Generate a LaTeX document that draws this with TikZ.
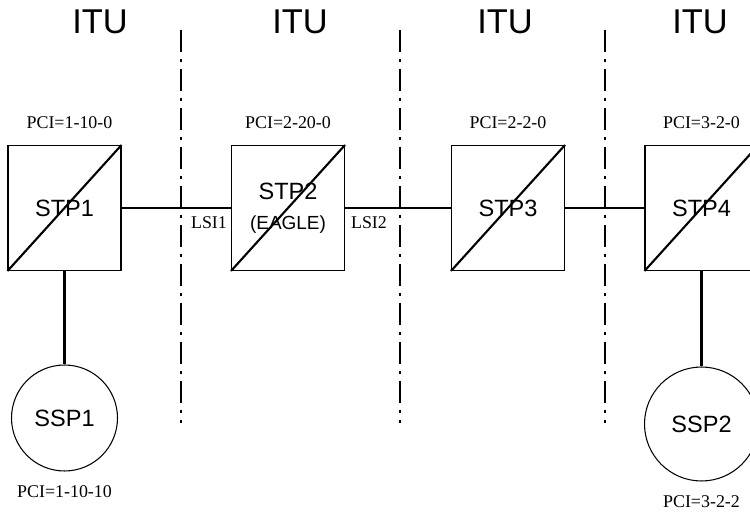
\documentclass[tikz,border=0pt]{standalone}
\usepackage{fontspec}
\setmainfont{Liberation Serif}
\setsansfont{Liberation Sans}
\usetikzlibrary{positioning}

\tikzset{
  stp/.style={draw, line width=0.6pt, minimum width=2.26cm, minimum height=2.5cm, inner sep=0pt,
    align=center, font=\sffamily\fontsize{13.4}{17}\selectfont},
  ssp/.style={draw, circle, line width=0.6pt, inner sep=0pt, font=\sffamily\fontsize{13.4}{16}\selectfont},
  pci/.style={inner sep=0pt, font=\fontsize{10.2}{12}\selectfont},
  itu/.style={inner sep=0pt, font=\sffamily\fontsize{19.6}{22}\selectfont},
  link/.style={line width=1.2pt},
  border/.style={line width=1.2pt, dash pattern=on 0.44cm off 0.14cm on 0.06cm off 0.14cm}
}

\begin{document}
\begin{tikzpicture}[x=0.02cm, y=-0.02cm]
  \useasboundingbox (0,0) rectangle (750,516);
  \clip (0,0) rectangle (750,516);
  % domain borders
  \foreach \x in {181,400,605}
  {
    \draw[border] (\x,30) -- (\x,423);
  }
  \node[itu] (itu1) at (100,22) {ITU};
  \node[itu] (itu2) at (300,22) {ITU};
  \node[itu] (itu3) at (505,22) {ITU};
  \node[itu] (itu4) at (700,22) {ITU};
  % signalling points
  \node[stp] (stp1) at (64.5,208) {STP1};
  \node[stp] (stp2) at (288,208) {STP2\\{\fontsize{10.8}{17}\selectfont(EAGLE)}};
  \node[stp] (stp3) at (508,208) {STP3};
  \node[stp] (stp4) at (701.5,208) {STP4};
  \node[ssp, minimum size=2.12cm] (ssp1) at (64.5,418) {SSP1};
  \node[ssp, minimum size=2.28cm] (ssp2) at (701.5,424) {SSP2};
  \foreach \n in {stp1,stp2,stp3,stp4}
  {
    \draw[link] (\n.south west) -- (\n.north east);
  }
  \draw[link] (stp1) -- (stp2);
  \draw[link] (stp2) -- (stp3);
  \draw[link] (stp3) -- (stp4);
  \draw[link] (stp1) -- (ssp1);
  \draw[link] (stp4) -- (ssp2);
  % point codes
  \node[pci, above=0.32cm of stp1, xshift=0.1cm] (pci1) {PCI=1-10-0};
  \node[pci, above=0.32cm of stp2] (pci2) {PCI=2-20-0};
  \node[pci, above=0.32cm of stp3] (pci3) {PCI=2-2-0};
  \node[pci, above=0.32cm of stp4] (pci4) {PCI=3-2-0};
  \node[pci, below=0.28cm of ssp1] (pci5) {PCI=1-10-10};
  \node[pci, below=0.28cm of ssp2] (pci6) {PCI=3-2-2};
  \node[pci] (lsi1) at (209,223) {LSI1};
  \node[pci] (lsi2) at (369,223) {LSI2};
\end{tikzpicture}
\end{document}
